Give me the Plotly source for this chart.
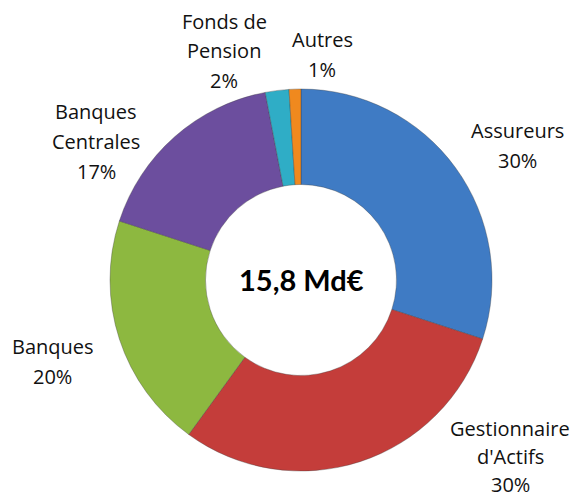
import plotly.graph_objects as go

categories = ["Assureurs", "Gestionnaire d'Actifs", "Banques", "Banques Centrales", "Fonds de Pension", "Autres"]
values = [30, 30, 20, 17, 2, 1]
label_lines = [
    ["Assureurs", "30%"],
    ["Gestionnaire", "d'Actifs", "30%"],
    ["Banques", "20%"],
    ["Banques", "Centrales", "17%"],
    ["Fonds de", "Pension", "2%"],
    ["Autres", "1%"],
]
colors = ["#3F7BC4", "#C43D3A", "#8DB840", "#6C4E9E", "#2FADC6", "#F0891E"]
center_text = "15,8 Md€"

# page body has an 8px margin: figure drawn at offset (8, 8)
OFF = 8
W, H = 579 - OFF, 501 - OFF
# label anchor (x center, first line y center) in window pixels, line spacing
label_pos = [(517, 130), (510, 428), (53, 346), (96, 111), (224, 21), (322, 39)]
label_ls = [30, 28, 30, 30, 30, 30]

def px(x):
    return (x - OFF) / W

def py(y):
    return 1 - (y - OFF) / H

fig = go.Figure()
cx, cy, r = 301, 280, 191
fig.add_trace(go.Pie(
    labels=categories, values=values, hole=0.5, sort=False, direction="clockwise",
    rotation=0, textinfo="none", hoverinfo="label+percent",
    marker=dict(colors=colors, line=dict(color="rgba(60,60,60,0.35)", width=1)),
    domain=dict(x=[px(cx - r), px(cx + r)], y=[py(cy + r), py(cy - r)]),
    showlegend=False,
))

anns = []
for lines, (x, y), ls in zip(label_lines, label_pos, label_ls):
    for i, t in enumerate(lines):
        anns.append(dict(text=t, x=px(x), y=py(y + i * ls), xref="paper", yref="paper",
                         showarrow=False, xanchor="center", yanchor="middle",
                         font=dict(family="Open Sans", size=20, color="#111111")))
anns.append(dict(text="<b>" + center_text + "</b>", x=px(cx), y=py(279), xref="paper", yref="paper",
                 showarrow=False, xanchor="center", yanchor="middle",
                 font=dict(family="Lato", size=29, color="#000000")))

fig.update_layout(width=W, height=H, margin=dict(l=0, r=0, t=0, b=0),
                  paper_bgcolor="white", plot_bgcolor="white", annotations=anns)
fig.write_html("out.html")
